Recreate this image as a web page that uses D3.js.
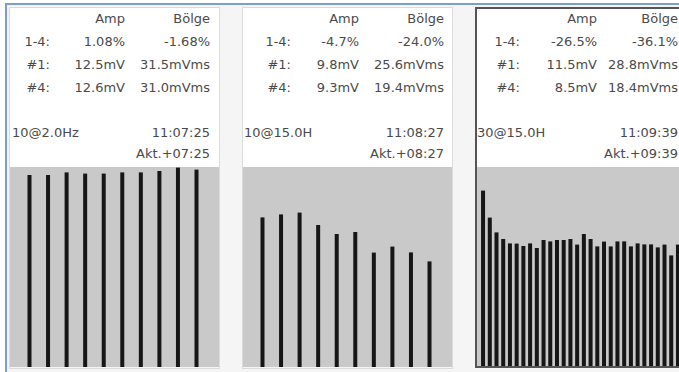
<!DOCTYPE html>
<html><head><meta charset="utf-8">
<script src="https://cdn.jsdelivr.net/npm/d3@7"></script>
<style>html,body{margin:0;padding:0;background:#fff;overflow:hidden}</style>
</head><body>
<svg id="c" width="679" height="372"></svg>
<script>
// ---- data ----
const colHeaders = ["Amp", "Bölge"];
const rowLabels = ["1-4:", "#1:", "#4:"];
const ampValues = [["1.08%", "12.5mV", "12.6mV"], ["-4.7%", "9.8mV", "9.3mV"], ["-26.5%", "11.5mV", "8.5mV"]];
const bolgeValues = [["-1.68%", "31.5mVms", "31.0mVms"], ["-24.0%", "25.6mVms", "19.4mVms"], ["-36.1%", "28.8mVms", "18.4mVms"]];
const pulseLabels = ["10@2.0Hz", "10@15.0H", "30@15.0H"];
const clockLabels = ["11:07:25", "11:08:27", "11:09:39"];
const elapsedLabels = ["Akt.+07:25", "Akt.+08:27", "Akt.+09:39"];
const bars1 = [96, 96, 97.3, 96.7, 96.7, 97.3, 97.3, 98, 99.7, 98.7];
const bars2 = [74.8, 76.3, 77.2, 71, 66.5, 67.5, 57.2, 60.2, 57.3, 52.8];
const bars3 = [88.2, 74.7, 67.3, 64, 61.8, 61.7, 60.5, 61.8, 59.5, 63.5, 62.8, 63.5, 63.5, 64, 61.2,
               66.5, 64, 60.3, 62.7, 60.3, 62.8, 62.8, 60.3, 61.8, 61.3, 61.3, 59.8, 61.2, 55.8, 61.2];
const barSeries = [bars1, bars2, bars3];

// ---- layout ----
const layout = [
  {x0: 10, x1: 219, lab: 50, amp: 125, bol: 210, left: 12, active: false},
  {x0: 243, x1: 452, lab: 291, amp: 359, bol: 444, left: 244, active: false},
  {x0: 476, x1: 688, lab: 520, amp: 597, bol: 678, left: 477, active: true}
];
const topY = 8, grayTop = 167, grayBot = 367;
const rowY = [23, 46, 69, 92];
const pulseY = 137, elapsedY = 158;

const svg = d3.select("#c");
svg.append("rect").attr("width", 679).attr("height", 372).attr("fill", "#fff");
svg.append("rect").attr("x", 6).attr("y", 4).attr("width", 673).attr("height", 368).attr("fill", "#f5f5f5");
svg.append("line").attr("x1", 5).attr("x2", 679).attr("y1", 4).attr("y2", 4).attr("stroke", "#7d9ec8").attr("stroke-width", 2);
svg.append("line").attr("x1", 6).attr("x2", 6).attr("y1", 3).attr("y2", 372).attr("stroke", "#7d9ec8").attr("stroke-width", 2);

const y = d3.scaleLinear().domain([0, 100]).range([grayBot, grayTop]);
const textColor = "#4a4a4a";
const sx = 1.13;

function txt(g, x, yy, s, anchor) {
  g.append("text")
    .attr("transform", `translate(${x},${yy}) scale(${sx},1)`)
    .attr("text-anchor", anchor)
    .attr("font-family", "DejaVu Sans, Verdana, sans-serif")
    .attr("font-size", 11.5)
    .attr("fill", textColor)
    .text(s);
}

layout.forEach((L, i) => {
  const g = svg.append("g");
  const w = L.x1 - L.x0;
  g.append("rect").attr("x", L.x0).attr("y", topY).attr("width", w).attr("height", grayTop - topY).attr("fill", "#fff");
  g.append("rect").attr("x", L.x0).attr("y", grayTop).attr("width", w).attr("height", grayBot - grayTop).attr("fill", "#c9c9c9");

  const x = d3.scalePoint().domain(d3.range(barSeries[i].length)).range([L.x0, L.x1 - 3]).padding(1.05);
  g.selectAll("rect.bar").data(barSeries[i]).join("rect")
    .attr("class", "bar")
    .attr("x", (d, j) => x(j) - 2)
    .attr("width", 4)
    .attr("y", d => y(d))
    .attr("height", d => y(0) - y(d))
    .attr("fill", "#161616");

  // border
  if (L.active) {
    g.append("rect").attr("x", L.x0).attr("y", topY).attr("width", w).attr("height", grayBot - topY)
      .attr("fill", "none").attr("stroke", "#555").attr("stroke-width", 2);
  } else {
    g.append("rect").attr("x", L.x0 - 0.5).attr("y", topY - 0.5).attr("width", w + 1).attr("height", grayBot - topY + 2)
      .attr("fill", "none").attr("stroke", "#dcdcdc").attr("stroke-width", 1);
  }

  txt(g, L.amp, rowY[0], colHeaders[0], "end");
  txt(g, L.bol, rowY[0], colHeaders[1], "end");
  rowLabels.forEach((r, k) => {
    txt(g, L.lab, rowY[k + 1], r, "end");
    txt(g, L.amp, rowY[k + 1], ampValues[i][k], "end");
    txt(g, L.bol, rowY[k + 1], bolgeValues[i][k], "end");
  });
  txt(g, L.left, pulseY, pulseLabels[i], "start");
  txt(g, L.bol, pulseY, clockLabels[i], "end");
  txt(g, L.bol, elapsedY, elapsedLabels[i], "end");
});
</script>
</body></html>
